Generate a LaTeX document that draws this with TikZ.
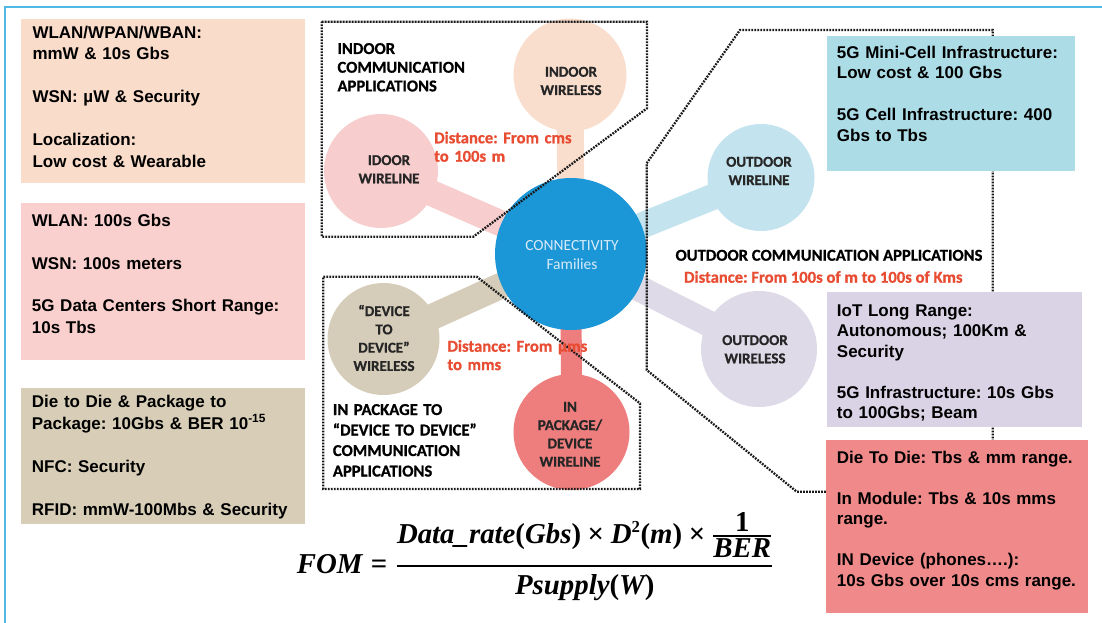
\documentclass[tikz,border=0pt]{standalone}
\usepackage{fontspec}
\usepackage{graphicx}
\newfontfamily\boxfont{Liberation Sans}
\newfontfamily\lblfont{Carlito}[BoldFeatures={FakeBold=0.8}]
\newfontfamily\fomfont{Liberation Serif}

\definecolor{frameblue}{RGB}{80,185,230}
\definecolor{peachbox}{RGB}{250,220,202}
\definecolor{pinkbox}{RGB}{249,208,205}
\definecolor{tanbox}{RGB}{216,206,184}
\definecolor{skybox}{RGB}{172,221,231}
\definecolor{lavbox}{RGB}{218,211,230}
\definecolor{redbox}{RGB}{240,138,138}
\definecolor{hubblue}{RGB}{27,150,214}
\definecolor{hubtext}{RGB}{215,235,250}
\definecolor{cPeach}{RGB}{250,222,205}
\definecolor{cPink}{RGB}{247,205,205}
\definecolor{cSky}{RGB}{195,228,238}
\definecolor{cLav}{RGB}{222,218,232}
\definecolor{cTan}{RGB}{213,205,185}
\definecolor{cSalmon}{RGB}{238,125,125}
\definecolor{distred}{RGB}{232,76,50}
\definecolor{zoneink}{RGB}{25,25,25}

% pieces of the figure-of-merit formula
\newcommand{\fv}[1]{\mbox{\fomfont\bfseries\itshape #1}}
\newcommand{\fp}[1]{\mbox{\fomfont\bfseries #1}}

\pgfdeclarelayer{paper}
\pgfdeclarelayer{stems}
\pgfsetlayers{paper,stems,main}

\begin{document}
\frenchspacing
\begin{tikzpicture}[x=1pt,y=-1pt,
  bubble/.style={circle, inner sep=0pt, outer sep=0pt, minimum size=#1},
  stem/.style={line width=#1, line cap=butt},
  zone/.style={draw=zoneink, line width=2.3pt, dash pattern=on 1.8pt off 1.2pt},
  infobox/.style={anchor=north west, inner sep=0pt, outer sep=0pt},
  boxtext/.style={anchor=base west, inner sep=0pt, align=left, text width=270pt,
    font=\boxfont\bfseries\fontsize{17}{#1}\selectfont},
  bubtext/.style={anchor=base, inner sep=0pt, align=center, text width=110pt,
    text=black!85, font=\lblfont\bfseries\fontsize{15}{18.3}\selectfont},
  zonetitle/.style={inner sep=0pt, align=left, text=black,
    font=\lblfont\bfseries\fontsize{16.6}{#1}\selectfont},
  rangetext/.style={inner sep=0pt, align=left, text=distred,
    font=\lblfont\bfseries\fontsize{16.6}{18.4}\selectfont},
]
\useasboundingbox (0,0) rectangle (1102,623);
\begin{pgfonlayer}{paper}
  \fill[white] (0,0) rectangle (1102,623);
\end{pgfonlayer}

% outer frame (top and left rules)
\draw[frameblue, line width=2.2pt] (4.7,623) -- (4.7,7) -- (1102,7);

% family bubbles
\node[bubble=152, fill=hubblue] (hub) at (571,254) {};
\node[bubble=113, fill=cPeach] (iwl) at (570,75) {};
\node[bubble=114, fill=cPink] (iwr) at (381,171) {};
\node[bubble=107, fill=cSky] (owr) at (761,177.5) {};
\node[bubble=116, fill=cLav] (ows) at (759,349) {};
\node[bubble=112, fill=cTan] (dev) at (383.5,339) {};
\node[bubble=116, fill=cSalmon] (pkg) at (571.5,432) {};

% stems joining each bubble to the hub
\begin{pgfonlayer}{stems}
  \draw[stem=27pt, cPeach] (iwl.center) -- (hub.center);
  \draw[stem=26pt, cPink] (iwr.center) -- (hub.center);
  \draw[stem=26pt, cSky] (owr.center) -- (hub.center);
  \draw[stem=26pt, cLav] (ows.center) -- (hub.center);
  \draw[stem=26pt, cTan] (dev.center) -- (hub.center);
  \draw[stem=21pt, cSalmon] (pkg.center) -- (hub.center);
\end{pgfonlayer}

% bubble captions
\node[bubtext] (iwlT) at (571,76.7) {INDOOR\\WIRELESS};
\node[bubtext] (iwrT) at (389,165) {IDOOR\\WIRELINE};
\node[bubtext] (owrT) at (759,166.7) {OUTDOOR\\WIRELINE};
\node[bubtext] (owsT) at (755,345) {OUTDOOR\\WIRELESS};
\node[bubtext] (devT) at (384,316) {“DEVICE\\TO\\DEVICE”\\WIRELESS};
\node[bubtext] (pkgT) at (570,411.7) {IN\\PACKAGE/\\DEVICE\\WIRELINE};
\node[anchor=base, inner sep=0pt, align=center, text width=130pt, text=hubtext,
  font=\lblfont\fontsize{15.5}{18.6}\selectfont] (hubT) at (572,250.7) {CONNECTIVITY\\Families};

% application zones
\draw[zone] (321.7,21.7) -- (647,21.7) -- (647,108.3) -- (473.3,236.7) -- (321.7,236.7) -- cycle;
\draw[zone] (323.3,276.7) -- (476.7,276.7) -- (640,403.3) -- (640,489) -- (323.3,489) -- cycle;
\draw[zone] (646.7,163.3) -- (740,30) -- (992.7,30) -- (992.7,491.7) -- (796.7,491.7) -- (646.7,370) -- cycle;

% zone titles and distance ranges
\node[zonetitle=18.7, anchor=base west, text width=200pt] (indoorT) at (337.3,54)
  {INDOOR\\COMMUNICATION\\APPLICATIONS};
\node[zonetitle=20.5, anchor=base west, text width=200pt] (pkgZoneT) at (332.7,415)
  {IN PACKAGE TO\\“DEVICE TO DEVICE”\\COMMUNICATION\\APPLICATIONS};
\node[zonetitle=18, anchor=base] (outdoorT) at (829,260.7) {OUTDOOR COMMUNICATION APPLICATIONS};
\node[rangetext, anchor=base] (outdoorD) at (823.3,282.7) {Distance: From 100s of m to 100s of Kms};
\node[rangetext, anchor=base west, text width=160pt] (indoorD) at (434,143.3) {Distance: From cms\\to 100s m};
\node[rangetext, anchor=base west, text width=160pt] (pkgD) at (447.3,351.7) {Distance: From µms\\to mms};

% requirement boxes
\node[infobox, fill=peachbox, minimum width=284.3, minimum height=163.7] (b1) at (20.7,19) {};
\node[boxtext=21.5] (b1T) at (32.3,38.3)
  {WLAN/WPAN/WBAN:\\mmW \& 10s Gbs\\[\baselineskip]WSN: µW \& Security\\[\baselineskip]Localization:\\Low cost \& Wearable};

\node[infobox, fill=pinkbox, minimum width=284.3, minimum height=156.7] (b2) at (20.7,203.3) {};
\node[boxtext=21.3] (b2T) at (31.7,226.7)
  {WLAN: 100s Gbs\\[\baselineskip]WSN: 100s meters\\[\baselineskip]5G Data Centers Short Range:\\10s Tbs};

\node[infobox, fill=tanbox, minimum width=284.3, minimum height=135.7] (b3) at (20.7,388.3) {};
\node[boxtext=21.5] (b3T) at (31.7,407.7)
  {Die to Die \& Package to\\Package: 10Gbs \& BER 10\textsuperscript{-15}\\[\baselineskip]NFC: Security\\[\baselineskip]RFID: mmW-100Mbs \& Security};

\node[infobox, fill=skybox, minimum width=247.7, minimum height=135.3] (b4) at (827.3,35.7) {};
\node[boxtext=20.7] (b4T) at (836.7,58.3)
  {5G Mini-Cell Infrastructure:\\Low cost \& 100 Gbs\\[\baselineskip]5G Cell Infrastructure: 400\\Gbs to Tbs};

\node[infobox, fill=lavbox, minimum width=255, minimum height=135.6] (b5) at (826.7,291.7) {};
\node[boxtext=20.5] (b5T) at (836.7,316)
  {IoT Long Range:\\Autonomous; 100Km \&\\Security\\[\baselineskip]5G Infrastructure: 10s Gbs\\to 100Gbs; Beam};

\node[infobox, fill=redbox, minimum width=262.3, minimum height=173.3] (b6) at (826,440) {};
\node[boxtext=20.5] (b6T) at (836.7,463.3)
  {Die To Die: Tbs \& mm range.\\[\baselineskip]In Module: Tbs \& 10s mms\\range.\\[\baselineskip]IN Device (phones….):\\10s Gbs over 10s cms range.};

% figure of merit
\node[anchor=base west, inner sep=0pt, font=\fontsize{24}{28}\selectfont] (fom) at (296.7,573.3)
  {\resizebox{477pt}{!}{$\displaystyle \fv{FOM}\mathrel{\fp{=}}
    {\fv{Data\_rate}\fp{(}\fv{Gbs}\fp{)}\mathbin{\fp{×}}\fv{D}^{\mbox{\fomfont\bfseries\fontsize{14}{14}\selectfont 2}}\fp{(}\fv{m}\fp{)}\mathbin{\fp{×}}{\fp{1}\above 1.6pt\fv{BER}}
     \above 2pt \fv{Psupply}\fp{(}\fv{W}\fp{)}}$}};
\end{tikzpicture}
\end{document}
